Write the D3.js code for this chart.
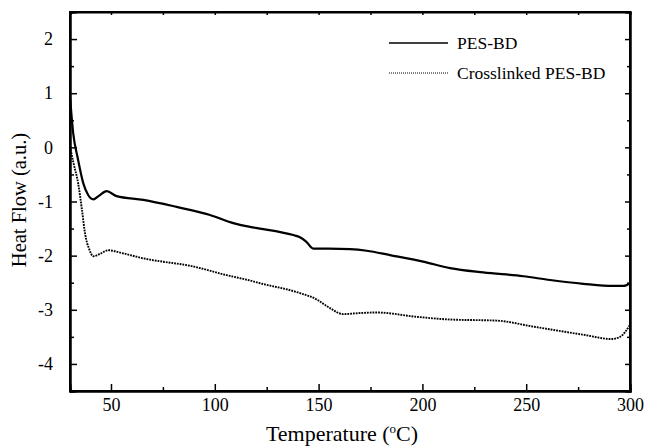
<!DOCTYPE html>
<html>
<head>
<meta charset="utf-8">
<script src="https://cdn.jsdelivr.net/npm/d3@7"></script>
<style>
  body { margin: 0; background: #fff; }
  svg text { font-family: "Liberation Serif", "Times New Roman", serif !important; fill: #000; }
</style>
</head>
<body>
<div id="chart"></div>
<script>
// data
var temps1 = [30.25, 31.8, 34, 36.7, 39, 41.5, 44, 47.9, 52.7, 65.6, 81.6, 97.7, 108.9, 117, 121.8, 137.8, 141, 144, 147.4, 155, 165.1, 173.2, 184.4, 200.4, 213.3, 229.3, 248.6, 261.5, 277.5, 291.9, 296.8, 300];
var pesBD = [0.93, 0.26, -0.2, -0.67, -0.88, -0.96, -0.9, -0.81, -0.9, -0.97, -1.1, -1.25, -1.4, -1.47, -1.5, -1.62, -1.66, -1.74, -1.87, -1.87, -1.88, -1.91, -1.99, -2.11, -2.23, -2.31, -2.38, -2.45, -2.52, -2.56, -2.56, -2.51];

var temps2 = [30.25, 32, 34.2, 36, 37.5, 39.5, 41.5, 44.5, 48.7, 55, 65.6, 89.6, 105.7, 117, 121.8, 140, 149.1, 155.5, 161.8, 170, 178, 197.3, 213.3, 235.8, 253.3, 277.4, 291.2, 295.2, 300];
var crossBD = [0.01, -0.3, -0.67, -1.15, -1.59, -1.88, -2.01, -1.97, -1.9, -1.95, -2.05, -2.2, -2.36, -2.46, -2.51, -2.68, -2.81, -2.97, -3.08, -3.06, -3.05, -3.13, -3.18, -3.2, -3.31, -3.46, -3.54, -3.5, -3.28];

var xTicks = [50, 100, 150, 200, 250, 300];
var xMinor = [75, 125, 175, 225, 275];
var yTicks = [-4, -3, -2, -1, 0, 1, 2];
var yMinor = [-4.5, -3.5, -2.5, -1.5, -0.5, 0.5, 1.5];

var margin = {top: 12, right: 18, bottom: 56, left: 70},
    width = 630 - margin.left,
    height = 391 - margin.top;

var svg = d3.select("#chart")
  .append("svg")
    .attr("width", 648)
    .attr("height", 447)
  .append("g")
    .attr("transform", "translate(" + margin.left + "," + margin.top + ")");

var x = d3.scaleLinear().domain([30.25, 300]).range([0, width]);
var y = d3.scaleLinear().domain([-4.5, 2.5]).range([height, 0]);

// axes with inward ticks
svg.append("g")
  .attr("transform", "translate(0," + height + ")")
  .call(d3.axisBottom(x).tickValues(xTicks).tickSize(-7).tickPadding(7));
svg.append("g")
  .attr("transform", "translate(0," + height + ")")
  .call(d3.axisBottom(x).tickValues(xMinor).tickSize(-4).tickFormat(""));
svg.append("g")
  .call(d3.axisLeft(y).tickValues(yTicks).tickSize(-7).tickPadding(17)
    .tickFormat(function(d) { return String(d); }));
svg.append("g")
  .call(d3.axisLeft(y).tickValues(yMinor).tickSize(-4).tickFormat(""));
svg.append("g")
  .attr("transform", "translate(" + width + ",0)")
  .call(d3.axisRight(y).tickValues(yTicks).tickSize(-5).tickFormat(""));
svg.append("g")
  .attr("transform", "translate(" + width + ",0)")
  .call(d3.axisRight(y).tickValues(yMinor).tickSize(-3).tickFormat(""));
svg.append("g")
  .call(d3.axisTop(x).tickValues(xTicks.concat(xMinor)).tickSize(-3).tickFormat(""));

svg.selectAll("g").attr("font-family", null);
svg.selectAll(".domain").attr("stroke-width", 2);
svg.selectAll(".tick line").attr("stroke-width", 1.5);
svg.selectAll(".tick text")
  .attr("font-size", 18);

// frame
svg.append("rect")
  .attr("width", width)
  .attr("height", height)
  .attr("fill", "none")
  .attr("stroke", "#000")
  .attr("stroke-width", 2);

// curves
var line = d3.line().curve(d3.curveMonotoneX);

svg.append("path")
  .attr("fill", "none")
  .attr("stroke", "#000")
  .attr("stroke-width", 2.2)
  .attr("d", line(temps1.map(function(t, i) { return [x(t), y(pesBD[i])]; })));

svg.append("path")
  .attr("fill", "none")
  .attr("stroke", "#000")
  .attr("stroke-width", 1.9)
  .attr("stroke-dasharray", "1.8,1")
  .attr("d", line(temps2.map(function(t, i) { return [x(t), y(crossBD[i])]; })));

// legend
var legend = [
  {name: "PES-BD", dash: null, w: 1.6},
  {name: "Crosslinked PES-BD", dash: "1,1", w: 1.2}
];
legend.forEach(function(d, i) {
  var ly = 31 + i * 30;
  svg.append("line")
    .attr("x1", 319).attr("x2", 378)
    .attr("y1", ly).attr("y2", ly)
    .attr("stroke", "#000")
    .attr("stroke-width", d.w)
    .attr("stroke-dasharray", d.dash);
  svg.append("text")
    .attr("x", 387).attr("y", ly + 6)
    .style("font-size", "17.5px")
    .text(d.name);
});

// axis titles
var xt = svg.append("text")
  .attr("x", 272)
  .attr("y", height + 50)
  .attr("text-anchor", "middle")
  .style("font-size", "22px");
xt.append("tspan").text("Temperature (");
xt.append("tspan").attr("dy", -8).style("font-size", "13px").text("o");
xt.append("tspan").attr("dy", 8).text("C)");

svg.append("text")
  .attr("transform", "rotate(-90)")
  .attr("x", -188)
  .attr("y", -44)
  .attr("text-anchor", "middle")
  .style("font-size", "20.5px")
  .text("Heat Flow (a.u.)");
</script>
</body>
</html>
